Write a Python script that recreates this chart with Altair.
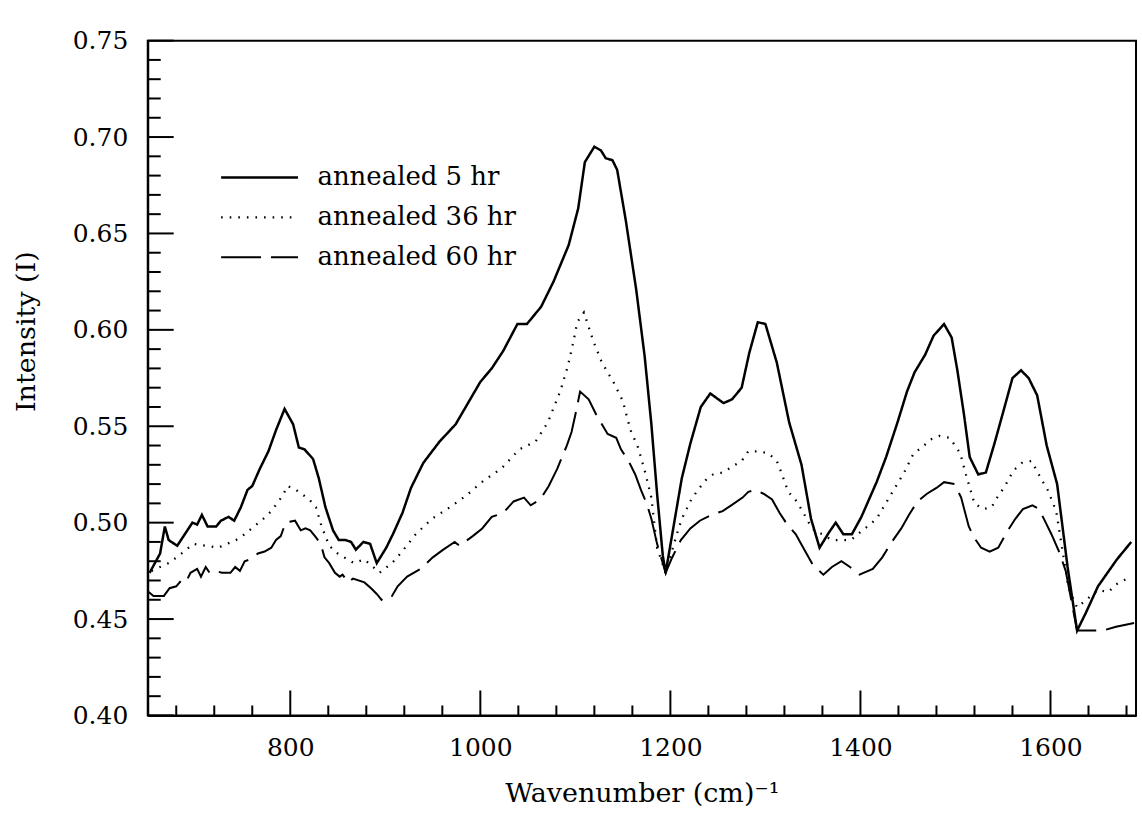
import altair as alt
import pandas as pd

# ---- data ----
wn_5hr = [652, 663, 668, 672, 681, 689, 697, 702, 707, 713, 722, 727, 735, 741, 748, 755, 760, 768, 777, 785,
          794, 803, 809, 815, 824, 830, 837, 845, 851, 858, 864, 869, 877, 884, 891, 901, 908, 918, 927, 940,
          957, 974, 987, 1000, 1012, 1024, 1039, 1049, 1064, 1077, 1093, 1103, 1110, 1120, 1127, 1132, 1139, 1144, 1153, 1164,
          1173, 1180, 1186, 1192, 1195, 1212, 1221, 1232, 1242, 1256, 1265, 1275, 1283, 1292, 1300, 1312, 1325, 1338, 1348, 1357,
          1367, 1374, 1382, 1391, 1401, 1417, 1427, 1439, 1449, 1457, 1468, 1477, 1488, 1496, 1502, 1509, 1515, 1524, 1532, 1541,
          1550, 1560, 1569, 1577, 1586, 1596, 1607, 1618, 1628, 1637, 1650, 1660, 1670, 1685]
int_5hr = [0.474, 0.484, 0.498, 0.491, 0.488, 0.494, 0.500, 0.499, 0.504, 0.498, 0.498, 0.501, 0.503, 0.501, 0.508, 0.517, 0.519, 0.528, 0.537, 0.548,
           0.559, 0.551, 0.539, 0.538, 0.533, 0.523, 0.508, 0.496, 0.491, 0.491, 0.490, 0.486, 0.490, 0.489, 0.479, 0.487, 0.494, 0.505, 0.518, 0.531,
           0.542, 0.551, 0.562, 0.573, 0.580, 0.589, 0.603, 0.603, 0.612, 0.625, 0.644, 0.663, 0.687, 0.695, 0.693, 0.689, 0.688, 0.683, 0.657, 0.621,
           0.586, 0.551, 0.515, 0.483, 0.474, 0.523, 0.541, 0.560, 0.567, 0.562, 0.564, 0.570, 0.588, 0.604, 0.603, 0.583, 0.552, 0.530, 0.502, 0.487,
           0.495, 0.500, 0.494, 0.494, 0.503, 0.521, 0.534, 0.552, 0.568, 0.578, 0.587, 0.597, 0.603, 0.596, 0.579, 0.556, 0.534, 0.525, 0.526, 0.541,
           0.557, 0.575, 0.579, 0.575, 0.566, 0.540, 0.520, 0.477, 0.444, 0.453, 0.467, 0.474, 0.481, 0.490]

wn_36hr = [654, 672, 683, 698, 724, 743, 752, 774, 780, 792, 797, 806, 820, 827, 833, 841, 850, 867, 878, 894,
           907, 916, 932, 949, 968, 985, 1004, 1022, 1041, 1058, 1071, 1084, 1092, 1098, 1102, 1109, 1119, 1128, 1140, 1150,
           1158, 1166, 1173, 1180, 1186, 1195, 1208, 1212, 1217, 1222, 1229, 1237, 1245, 1255, 1275, 1282, 1293, 1303, 1312, 1316,
           1324, 1333, 1339, 1349, 1370, 1390, 1417, 1423, 1429, 1435, 1446, 1456, 1465, 1473, 1483, 1494, 1505, 1511, 1520, 1529,
           1538, 1545, 1551, 1561, 1570, 1580, 1591, 1597, 1606, 1619, 1628, 1650, 1661, 1669, 1685]
int_36hr = [0.475, 0.479, 0.483, 0.489, 0.487, 0.491, 0.494, 0.503, 0.506, 0.514, 0.519, 0.517, 0.512, 0.508, 0.498, 0.488, 0.484, 0.479, 0.481, 0.474,
            0.479, 0.484, 0.494, 0.502, 0.508, 0.514, 0.522, 0.528, 0.538, 0.542, 0.552, 0.568, 0.581, 0.594, 0.604, 0.609, 0.594, 0.583, 0.573, 0.563,
            0.548, 0.539, 0.527, 0.513, 0.487, 0.474, 0.496, 0.502, 0.507, 0.512, 0.517, 0.522, 0.525, 0.526, 0.532, 0.537, 0.537, 0.536, 0.532, 0.527,
            0.516, 0.511, 0.506, 0.497, 0.491, 0.491, 0.502, 0.507, 0.512, 0.517, 0.526, 0.536, 0.539, 0.543, 0.545, 0.544, 0.536, 0.525, 0.510, 0.507,
            0.508, 0.514, 0.518, 0.527, 0.531, 0.532, 0.522, 0.517, 0.506, 0.466, 0.456, 0.465, 0.464, 0.468, 0.472]

wn_60hr = [651, 656, 667, 673, 680, 687, 691, 695, 702, 706, 711, 715, 721, 728, 737, 742, 747, 752, 758, 766,
           773, 780, 785, 790, 795, 805, 811, 816, 821, 826, 832, 836, 841, 847, 852, 855, 861, 866, 878, 885,
           891, 896, 901, 907, 913, 923, 937, 950, 961, 973, 978, 992, 1002, 1012, 1024, 1035, 1046, 1053, 1063, 1072,
           1081, 1091, 1096, 1100, 1105, 1114, 1123, 1134, 1143, 1148, 1156, 1163, 1169, 1175, 1180, 1186, 1195, 1201, 1211, 1221,
           1231, 1243, 1255, 1264, 1276, 1282, 1289, 1298, 1307, 1315, 1323, 1332, 1341, 1350, 1361, 1370, 1380, 1389, 1399, 1413,
           1423, 1433, 1443, 1451, 1460, 1470, 1480, 1488, 1499, 1506, 1514, 1520, 1527, 1536, 1545, 1554, 1563, 1571, 1581, 1588,
           1595, 1601, 1609, 1616, 1628, 1643, 1655, 1669, 1688]
int_60hr = [0.464, 0.462, 0.462, 0.466, 0.467, 0.471, 0.470, 0.474, 0.476, 0.472, 0.477, 0.474, 0.475, 0.474, 0.474, 0.477, 0.475, 0.480, 0.481, 0.484,
            0.485, 0.487, 0.491, 0.493, 0.500, 0.501, 0.496, 0.497, 0.496, 0.493, 0.489, 0.482, 0.479, 0.474, 0.472, 0.473, 0.469, 0.471, 0.469, 0.466,
            0.463, 0.460, 0.462, 0.462, 0.467, 0.472, 0.476, 0.482, 0.486, 0.490, 0.488, 0.493, 0.497, 0.503, 0.505, 0.511, 0.513, 0.509, 0.512, 0.519,
            0.528, 0.540, 0.547, 0.556, 0.568, 0.564, 0.555, 0.546, 0.544, 0.538, 0.532, 0.525, 0.517, 0.510, 0.502, 0.489, 0.474, 0.481, 0.491, 0.497,
            0.501, 0.504, 0.506, 0.509, 0.513, 0.516, 0.517, 0.515, 0.512, 0.505, 0.499, 0.494, 0.486, 0.478, 0.473, 0.477, 0.480, 0.477, 0.473, 0.476,
            0.482, 0.490, 0.497, 0.504, 0.511, 0.515, 0.518, 0.521, 0.520, 0.513, 0.498, 0.492, 0.487, 0.485, 0.487, 0.495, 0.502, 0.507, 0.509, 0.507,
            0.500, 0.494, 0.485, 0.475, 0.444, 0.444, 0.444, 0.446, 0.448]

series_names = ["annealed 5 hr", "annealed 36 hr", "annealed 60 hr"]

# axis tick values
y_major = [0.40, 0.45, 0.50, 0.55, 0.60, 0.65, 0.70, 0.75]
y_minor = [0.41, 0.42, 0.43, 0.44, 0.46, 0.47, 0.48, 0.49, 0.51, 0.52, 0.53, 0.54,
           0.56, 0.57, 0.58, 0.59, 0.61, 0.62, 0.63, 0.64, 0.66, 0.67, 0.68, 0.69,
           0.71, 0.72, 0.73, 0.74]
x_major = [800, 1000, 1200, 1400, 1600]
x_minor = [680, 720, 760, 840, 880, 920, 960, 1040, 1080, 1120, 1160, 1240, 1280,
           1320, 1360, 1440, 1480, 1520, 1560, 1640, 1680]

FONT = "DejaVu Serif"
W, H = 990, 676

df = pd.concat([
    pd.DataFrame({"wavenumber": wn_5hr, "intensity": int_5hr, "series": series_names[0]}),
    pd.DataFrame({"wavenumber": wn_36hr, "intensity": int_36hr, "series": series_names[1]}),
    pd.DataFrame({"wavenumber": wn_60hr, "intensity": int_60hr, "series": series_names[2]}),
], ignore_index=True)

xs = alt.Scale(domain=[650, 1690], nice=False, zero=False)
ys = alt.Scale(domain=[0.40, 0.75], nice=False, zero=False)

x_axis = alt.Axis(values=x_major, format="d", title="Wavenumber (cm)\u207b\u00b9",
                  labelPadding=20, titlePadding=20, ticks=False, tickSize=0, grid=False,
                  domain=True, domainColor="black", domainWidth=2,
                  labelFont=FONT, labelFontSize=25, labelColor="black",
                  titleFont=FONT, titleFontSize=27, titleFontWeight="normal", titleColor="black")
y_axis = alt.Axis(values=y_major, format=".2f", title="Intensity (I)",
                  labelPadding=20, titlePadding=32, titleY=291, ticks=False, tickSize=0, grid=False,
                  domain=True, domainColor="black", domainWidth=2,
                  labelFont=FONT, labelFontSize=25, labelColor="black",
                  titleFont=FONT, titleFontSize=27, titleFontWeight="normal", titleColor="black")

lines = alt.Chart(df).mark_line(color="black", strokeCap="butt", clip=True).encode(
    x=alt.X("wavenumber:Q", scale=xs, axis=x_axis),
    y=alt.Y("intensity:Q", scale=ys, axis=y_axis),
    strokeDash=alt.StrokeDash(
        "series:N",
        scale=alt.Scale(domain=series_names, range=[[1, 0], [1.6, 7], [40, 10]]),
        legend=alt.Legend(title=None, orient="none", legendX=72, legendY=117,
                          symbolType="stroke", symbolSize=5929, symbolStrokeWidth=2.5,
                          symbolStrokeColor="black", labelFont=FONT, labelFontSize=26,
                          labelColor="black", labelOffset=18, labelLimit=0,
                          clipHeight=40, rowPadding=0, padding=0)),
    strokeWidth=alt.StrokeWidth("series:N",
                                scale=alt.Scale(domain=series_names, range=[2.5, 2.0, 3.0]),
                                legend=None),
)

ymaj = alt.Chart(pd.DataFrame({"v": y_major})).mark_rule(color="black", strokeWidth=2).encode(
    y=alt.Y("v:Q", scale=ys), x=alt.value(0), x2=alt.value(26))
ymin = alt.Chart(pd.DataFrame({"v": y_minor})).mark_rule(color="black", strokeWidth=2).encode(
    y=alt.Y("v:Q", scale=ys), x=alt.value(0), x2=alt.value(13))
xmaj = alt.Chart(pd.DataFrame({"v": x_major})).mark_rule(color="black", strokeWidth=2).encode(
    x=alt.X("v:Q", scale=xs), y=alt.value(H), y2=alt.value(H - 25))
xmin = alt.Chart(pd.DataFrame({"v": x_minor})).mark_rule(color="black", strokeWidth=2).encode(
    x=alt.X("v:Q", scale=xs), y=alt.value(H), y2=alt.value(H - 10))

chart = alt.layer(lines, ymaj, ymin, xmaj, xmin).properties(
    width=W, height=H,
    padding={"left": 12, "top": 28, "right": 6, "bottom": 4},
    background="white",
).configure_view(
    stroke="black", strokeWidth=2
)

chart.save("out.html", embed_options={"renderer": "svg", "actions": False})
